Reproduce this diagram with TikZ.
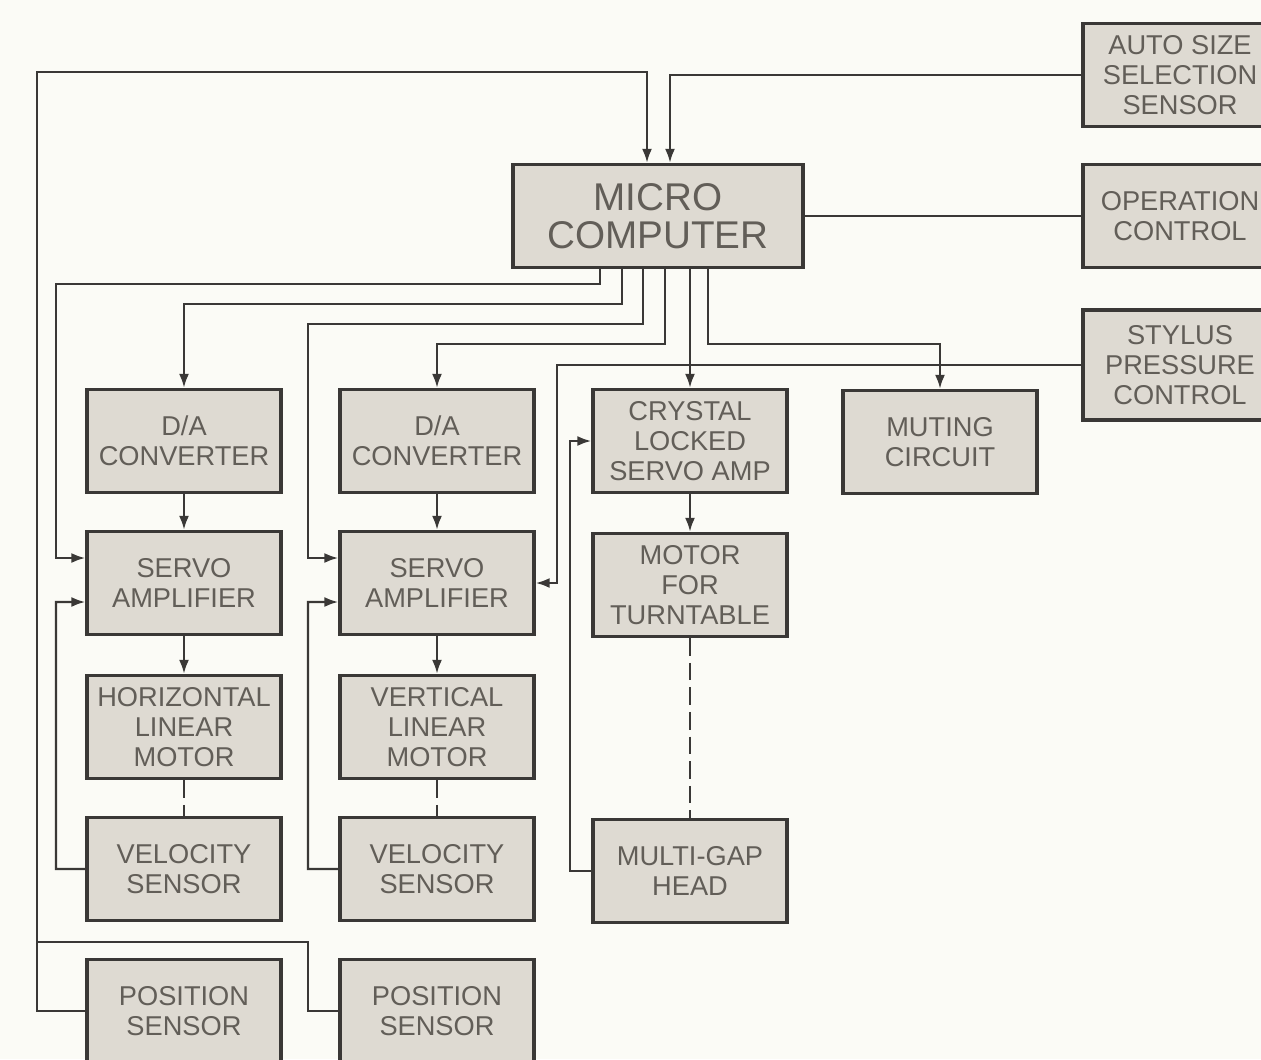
\documentclass[tikz,border=0pt]{standalone}
\usepackage{fontspec}
\setmainfont{Liberation Sans}
\usepackage{tikz}
\usetikzlibrary{positioning,calc,arrows.meta}
\definecolor{paper}{HTML}{FBFBF6}
\definecolor{boxfill}{HTML}{DEDAD2}
\definecolor{ink}{HTML}{3A3836}
\definecolor{txt}{HTML}{625E58}

\begin{document}
\begin{tikzpicture}[x=0.02cm, y=-0.02cm,
    box/.style={draw=ink, line width=1.9pt, fill=boxfill, minimum width=3.88cm,
      minimum height=2.06cm, align=center, inner sep=1pt, text=txt,
      font=\fontsize{15.5}{17}\selectfont},
    bigbox/.style={box, minimum width=5.8cm, font=\fontsize{22}{21.5}\selectfont},
    arrow/.style={draw=ink, line width=1.35pt, -{Latex[length=2.8mm,width=2mm]}},
    link/.style={draw=ink, line width=1.35pt},
    mech/.style={link, dash pattern=on 10pt off 4pt}
  ]
    \useasboundingbox (0,0) rectangle (1261,1059);
    \fill[paper] (0,0) rectangle (1261,1059);
    \node[bigbox] (MC) at (658,216) {MICRO\\COMPUTER};
    \node[box] (ASS) at (1180,75) {AUTO SIZE\\SELECTION\\SENSOR};
    \node[box] (OPC) at (1180,216) {OPERATION\\CONTROL};
    \node[box, minimum height=2.2cm] (SPC) at (1180,365) {STYLUS\\PRESSURE\\CONTROL};
    \node[box] (DA1) at (184,441) {D/A\\CONVERTER};
    \node[box] (DA2) at (437,441) {D/A\\CONVERTER};
    \node[box] (CLS) at (690,441) {CRYSTAL\\LOCKED\\SERVO AMP};
    \node[box] (MUT) at (940,442) {MUTING\\CIRCUIT};
    \node[box] (SA1) at (184,583) {SERVO\\AMPLIFIER};
    \node[box] (SA2) at (437,583) {SERVO\\AMPLIFIER};
    \node[box] (MFT) at (690,585) {MOTOR\\FOR\\TURNTABLE};
    \node[box] (HLM) at (184,727) {HORIZONTAL\\LINEAR\\MOTOR};
    \node[box] (VLM) at (437,727) {VERTICAL\\LINEAR\\MOTOR};
    \node[box] (VS1) at (184,869) {VELOCITY\\SENSOR};
    \node[box] (VS2) at (437,869) {VELOCITY\\SENSOR};
    \node[box] (MGH) at (690,871) {MULTI-GAP\\HEAD};
    \node[box] (PS1) at (184,1011) {POSITION\\SENSOR};
    \node[box] (PS2) at (437,1011) {POSITION\\SENSOR};
    \draw[arrow] (PS1.west) -| (37,72) -| ([xshift=-0.22cm]MC.north);
    \draw[link] (PS2.west) -| (308,942) -- (37,942);
    \draw[arrow] (ASS.west) -| ([xshift=0.24cm]MC.north);
    \draw[link] (MC.east) -- (OPC.west);
    \draw[arrow] (SPC.west) -| (557,583) -- (SA2.east);
    \draw[arrow] ([xshift=-1.16cm]MC.south) |- (56,284) |- ([yshift=0.5cm]SA1.west);
    \draw[arrow] ([xshift=-0.72cm]MC.south) |- (184,304) -- (DA1.north);
    \draw[arrow] ([xshift=-0.30cm]MC.south) |- (308,324) |- ([yshift=0.5cm]SA2.west);
    \draw[arrow] ([xshift=0.14cm]MC.south) |- (437,344) -- (DA2.north);
    \draw[arrow] (MC.south -| CLS.north) -- (CLS.north);
    \draw[arrow] ([xshift=1.0cm]MC.south) |- (940,344) -- (MUT.north);
    \draw[arrow] (DA1) -- (SA1);
    \draw[arrow] (SA1) -- (HLM);
    \draw[arrow] (DA2) -- (SA2);
    \draw[arrow] (SA2) -- (VLM);
    \draw[arrow] (CLS) -- (MFT);
    \draw[mech] (HLM) -- (VS1);
    \draw[mech] (VLM) -- (VS2);
    \draw[mech] (MFT) -- (MGH);
    \draw[arrow] (VS1.west) -| (56,602) -- ([yshift=-0.38cm]SA1.west);
    \draw[arrow] (VS2.west) -| (308,602) -- ([yshift=-0.38cm]SA2.west);
    \draw[arrow] (MGH.west) -| (570,441) -- (CLS.west);
  \end{tikzpicture}
\end{document}
